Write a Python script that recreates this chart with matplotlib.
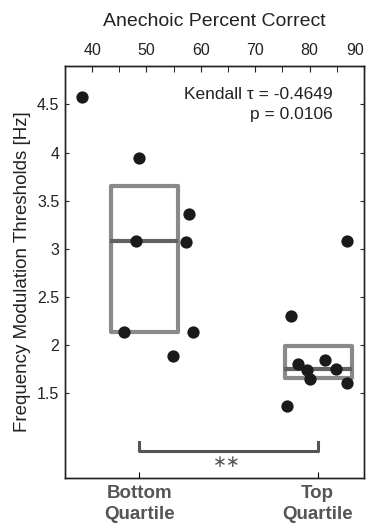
import matplotlib.pyplot as plt
from matplotlib.patches import Rectangle
from matplotlib.ticker import FormatStrFormatter, MultipleLocator

plt.rcParams['font.family'] = ['Liberation Sans', 'DejaVu Sans']

# data
bottom_pct = [38.2, 48.6, 57.9, 48.1, 57.3, 45.8, 58.5, 54.8]
bottom_fm = [4.58, 3.94, 3.36, 3.08, 3.07, 2.135, 2.135, 1.886]
top_pct = [76.5, 75.8, 77.9, 79.6, 80.0, 82.8, 84.8, 86.9, 86.9]
top_fm = [2.30, 1.365, 1.80, 1.74, 1.65, 1.85, 1.75, 1.61, 3.08]

groups = ['Bottom\nQuartile', 'Top\nQuartile']
group_pos = [48.7, 81.5]
box_center = [49.6, 81.6]
box_q1 = [2.135, 1.66]
box_q3 = [3.65, 1.99]
box_med = [3.08, 1.75]
box_width = 12.3

stats_text = 'Kendall \u03c4 = -0.4649\np = 0.0106'
sig_text = '\u2217\u2217'

fig = plt.figure(figsize=(3.71, 5.27), dpi=100)
ax = fig.add_axes([0.175, 0.093, 0.806, 0.782])

box_col = '#8a8a8a'
med_col = '#626262'
for c, q1, q3, m in zip(box_center, box_q1, box_q3, box_med):
    ax.add_patch(Rectangle((c - box_width / 2, q1), box_width, q3 - q1,
                           fill=False, edgecolor=box_col, lw=3, zorder=2,
                           joinstyle='round'))
    ax.plot([c - box_width / 2 + 0.3, c + box_width / 2 - 0.3], [m, m],
            color=med_col, lw=3, zorder=2)

ax.scatter(bottom_pct + top_pct, bottom_fm + top_fm, s=78, color='#1a1a1a',
           zorder=3, linewidths=0)

# significance bracket
yb, yt = 0.897, 0.99
ax.plot([group_pos[0], group_pos[0], group_pos[1], group_pos[1]],
        [yt, yb, yb, yt], color='#555555', lw=2.2, zorder=2)
ax.text(sum(group_pos) / 2 - 0.4, 0.785, sig_text, ha='center', va='center',
        fontsize=12, color='#555555', family='DejaVu Sans')

ax.text(84.3, 4.5, stats_text, ha='right', va='center', fontsize=12.5,
        color='#222222', linespacing=1.38)

ax.set_xlim(35, 90)
ax.set_ylim(0.62, 4.9)

ax.yaxis.set_major_formatter(FormatStrFormatter('%g'))
ax.set_yticks([1.5, 2, 2.5, 3, 3.5, 4, 4.5])
ax.tick_params(axis='y', direction='in', right=True, length=3, labelsize=11.5,
               colors='#222222', pad=4)
ax.set_ylabel('Frequency Modulation Thresholds [Hz]', fontsize=13.5,
              color='#222222')
ax.yaxis.set_label_coords(-0.115, 0.5)

ax.set_xticks(group_pos)
ax.set_xticklabels(groups, fontsize=13.5, fontweight='bold', color='#555555',
                   linespacing=1.35)
ax.tick_params(axis='x', direction='in', length=4, pad=5)

# top axis: percent correct
top = ax.twiny()
top.set_xlim(ax.get_xlim())
top.set_xticks([40, 50, 60, 70, 80, 90])
top.xaxis.set_minor_locator(MultipleLocator(5))
top.tick_params(axis='x', which='major', direction='in', length=4,
                labelsize=11.5, pad=6, colors='#222222')
top.tick_params(axis='x', which='minor', direction='in', length=4)
top.get_xticklabels()[-1].set_horizontalalignment('right')
top.set_xlabel('Anechoic Percent Correct', fontsize=14, color='#222222',
               labelpad=12)

for a in (ax, top):
    for sp in a.spines.values():
        sp.set_linewidth(1.0)
        sp.set_color('#222222')

fig.savefig('out.png', dpi=100)
